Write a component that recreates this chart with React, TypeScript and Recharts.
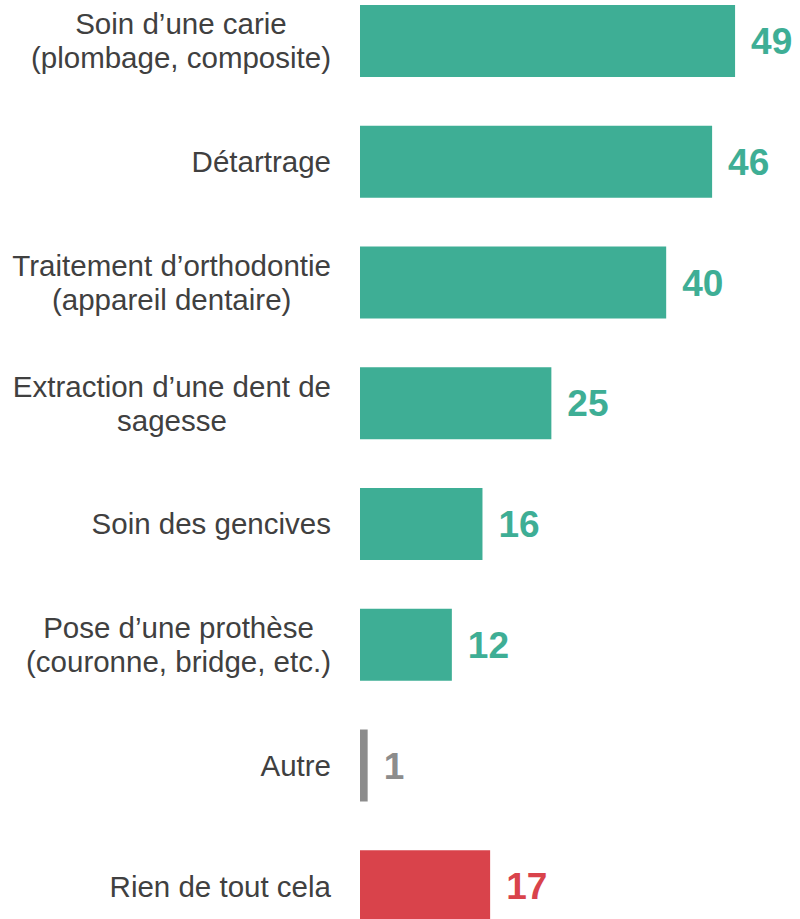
import React from 'react';
import { BarChart, Bar, XAxis, YAxis, Cell, LabelList } from 'recharts';

const categories = [
  'Soin d’une carie\n(plombage, composite)',
  'Détartrage',
  'Traitement d’orthodontie\n(appareil dentaire)',
  'Extraction d’une dent de\nsagesse',
  'Soin des gencives',
  'Pose d’une prothèse\n(couronne, bridge, etc.)',
  'Autre',
  'Rien de tout cela',
];

const values = [49, 46, 40, 25, 16, 12, 1, 17];

const TEAL = '#3EAE95';
const GREY = '#8C8C8C';
const RED = '#D9434B';
const FONT = '"Liberation Sans", Arial, sans-serif';
const FS = 29.5;

const colorFor = (name: string) => {
  if (name === 'Autre') return GREY;
  if (name === 'Rien de tout cela') return RED;
  return TEAL;
};

const data = categories.map((name, i) => ({ name, value: values[i] }));

let canvas: HTMLCanvasElement | null = null;
const measure = (txt: string) => {
  if (!canvas) canvas = document.createElement('canvas');
  const ctx = canvas.getContext('2d');
  if (!ctx) return txt.length * 14;
  ctx.font = `${FS}px ${FONT}`;
  return ctx.measureText(txt).width;
};

const CategoryTick = (props: any) => {
  const { y, payload } = props;
  const lines: string[] = String(payload.value).split('\n');
  const right = 331;
  const lineH = 34;
  if (lines.length === 1) {
    return (
      <text x={right} y={y + 10} textAnchor="end" fontSize={FS} fill="#404040" fontFamily={FONT}>
        {lines[0]}
      </text>
    );
  }
  const w = Math.max(...lines.map(measure));
  const cx = right - w / 2;
  const y0 = y + 10 - ((lines.length - 1) * lineH) / 2;
  return (
    <text textAnchor="middle" fontSize={FS} fill="#404040" fontFamily={FONT}>
      {lines.map((l, i) => (
        <tspan key={i} x={cx} y={y0 + i * lineH}>
          {l}
        </tspan>
      ))}
    </text>
  );
};

const ValueLabel = (props: any) => {
  const { x, y, width, height, value, index } = props;
  return (
    <text
      x={x + width + 16}
      y={y + height / 2 + 13}
      fontSize={37}
      fontWeight="bold"
      fill={colorFor(categories[index])}
      fontFamily={FONT}
    >
      {value}
    </text>
  );
};

export default function App() {
  return (
    <div style={{ position: 'absolute', left: 0, top: 0, width: 800, height: 919, overflow: 'hidden', background: '#fff' }}>
      <div style={{ position: 'absolute', left: 0, top: -19 }}>
        <BarChart
          width={800}
          height={966}
          data={data}
          layout="vertical"
          margin={{ top: 0, right: 19, bottom: 0, left: 0 }}
        >
          <XAxis type="number" domain={[0, 55]} hide />
          <YAxis
            type="category"
            dataKey="name"
            width={360}
            axisLine={false}
            tickLine={false}
            tick={<CategoryTick />}
            interval={0}
          />
          <Bar dataKey="value" barSize={72} isAnimationActive={false}>
            {data.map((d, i) => (
              <Cell key={i} fill={colorFor(d.name)} />
            ))}
            <LabelList dataKey="value" content={<ValueLabel />} />
          </Bar>
        </BarChart>
      </div>
    </div>
  );
}
